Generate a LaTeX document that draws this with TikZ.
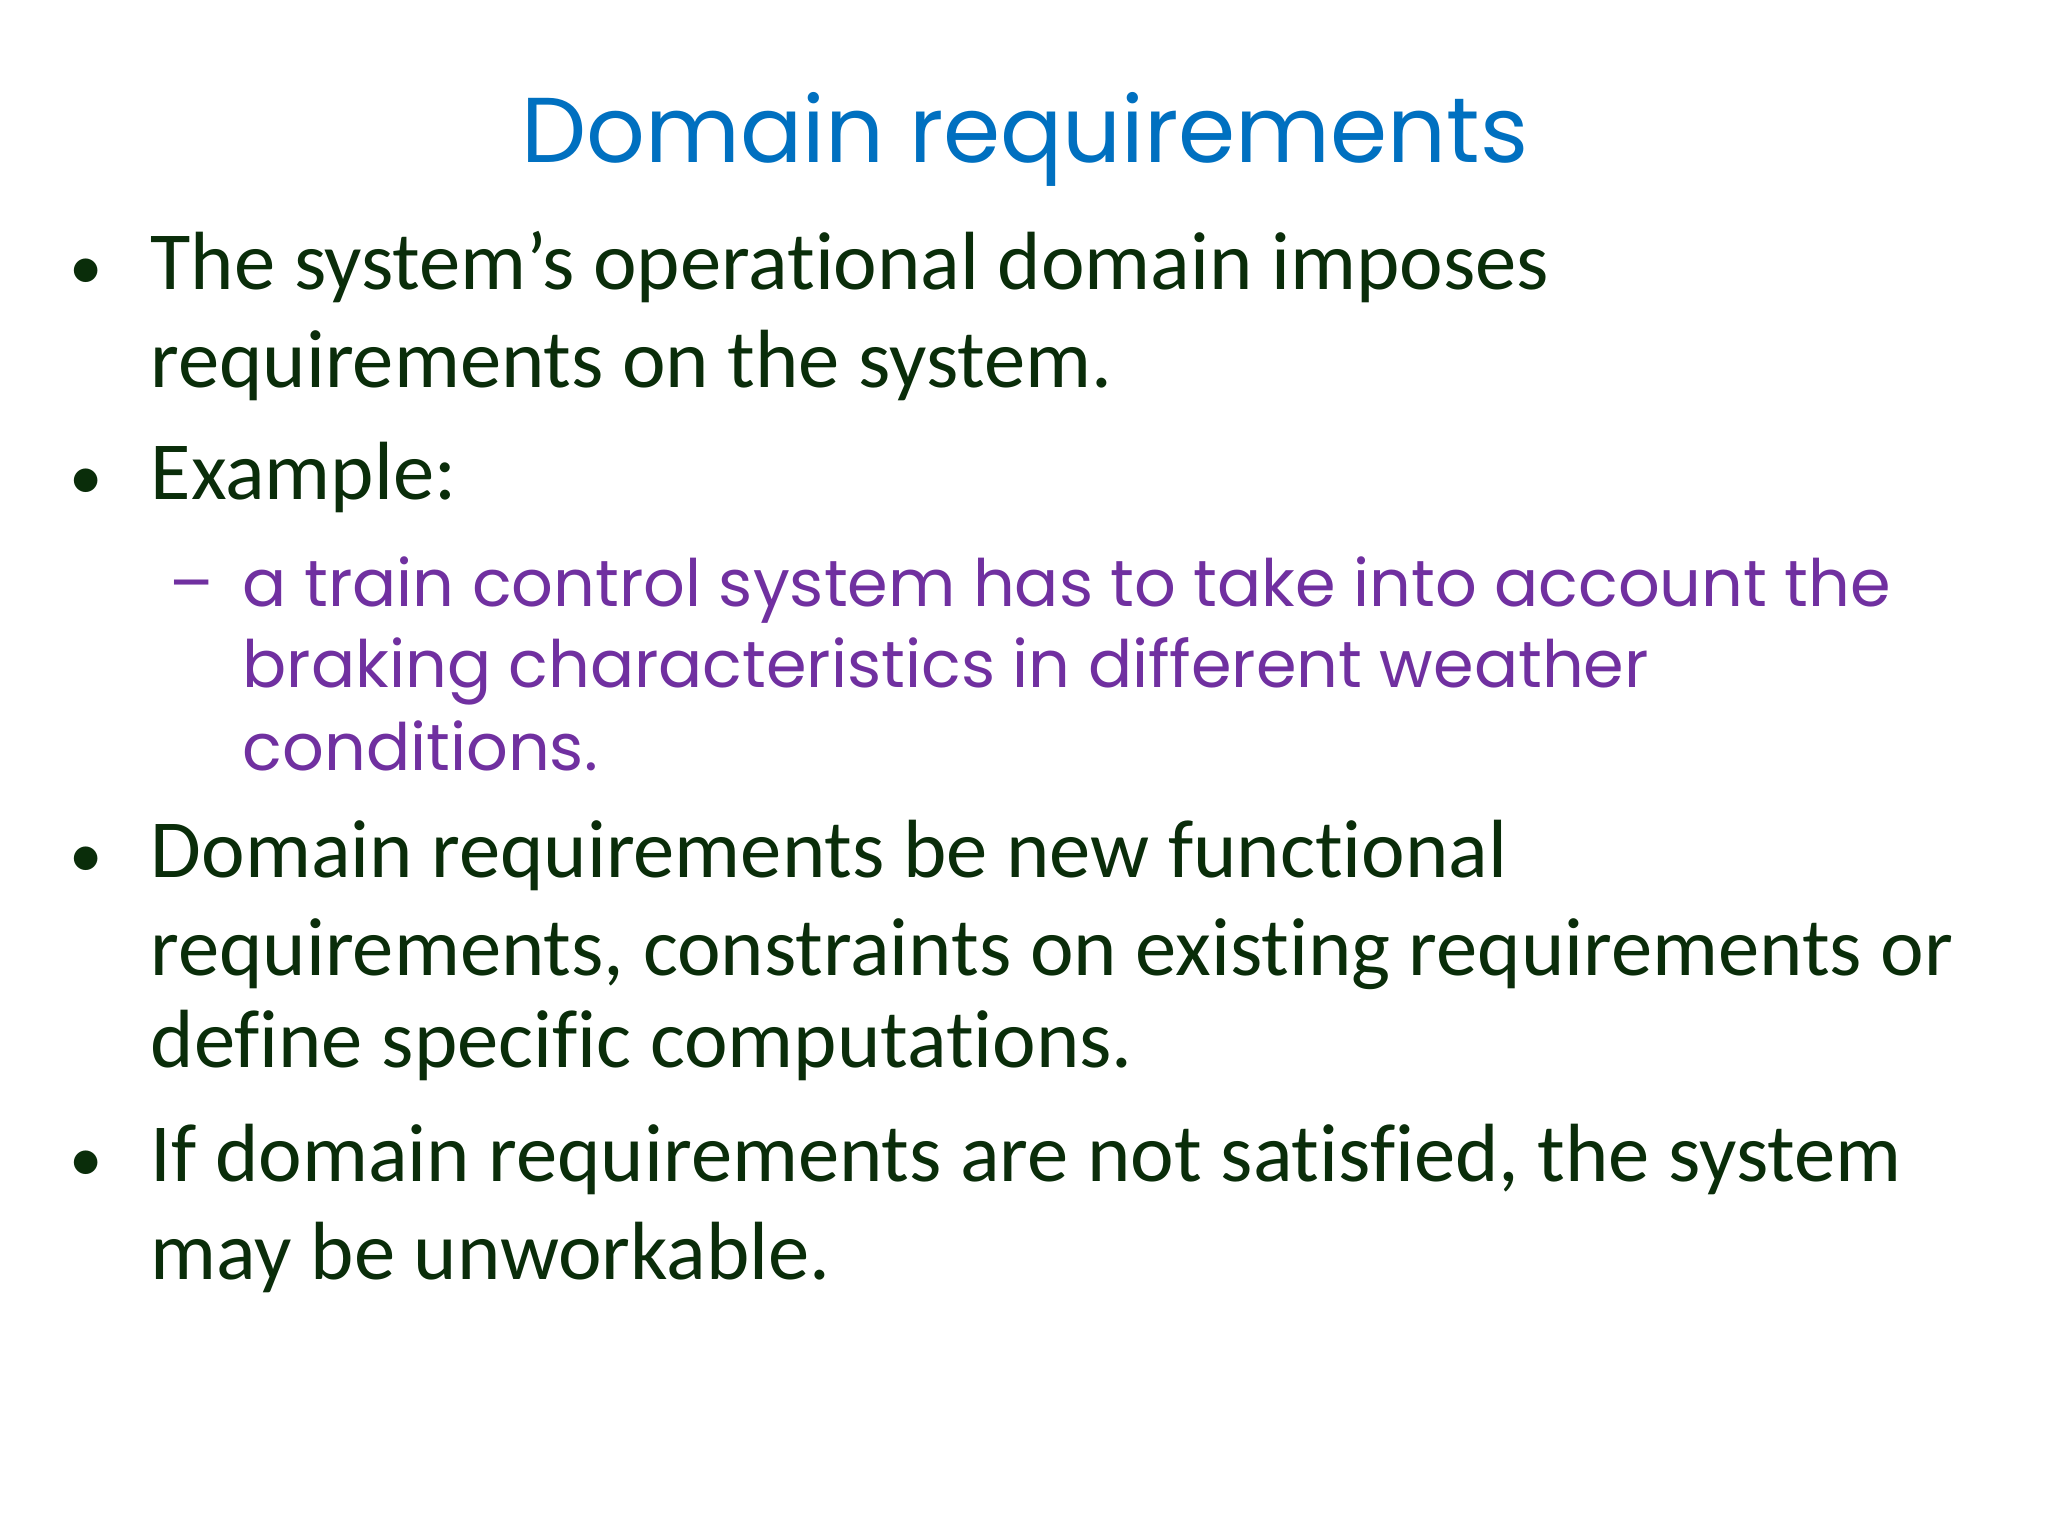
\documentclass[tikz,border=0pt]{standalone}
\usepackage{fontspec}
\setmainfont[Ligatures=NoCommon]{Carlito}
\newfontfamily\titlefont{Poppins}
\newfontfamily\subfont{Poppins}
\definecolor{titleblue}{RGB}{0,112,192}
\definecolor{bodygreen}{RGB}{10,45,10}
\definecolor{subpurple}{RGB}{112,48,160}
\begin{document}
\begin{tikzpicture}[x=1cm,y=1cm,
  body/.style={anchor=base west,inner sep=0pt,text=bodygreen,font=\fontsize{23.5}{28}\selectfont},
  sub/.style={anchor=base west,inner sep=0pt,text=subpurple,font=\subfont\fontsize{18.6}{23}\selectfont},
  bul/.style={anchor=base,inner sep=0pt,text=bodygreen,font=\fontsize{19}{23}\selectfont}]
\fill[white] (0,0) rectangle (20.48,15.36);
\useasboundingbox (0,0) rectangle (20.48,15.36);
\node[anchor=base,inner sep=0pt,text=titleblue,font=\titlefont\fontsize{26.2}{32}\selectfont] (title) at (10.25,15.36-1.63) {Domain requirements};
\node[bul] (b1) at (0.86,15.36-2.90) {•};
\node[body] (l1) at (1.50,15.36-2.90) {The system’s operational domain imposes};
\node[body] (l2) at (1.50,15.36-3.88) {requirements on the system.};
\node[bul] (b2) at (0.86,15.36-5.00) {•};
\node[body] (l3) at (1.50,15.36-5.00) {Example:};
\node[anchor=base,inner sep=0pt,text=subpurple,font=\subfont\fontsize{18.6}{23}\selectfont] (d1) at (1.92,15.36-6.07) {–};
\node[sub] (s1) at (2.42,15.36-6.07) {a train control system has to take into account the};
\node[sub] (s2) at (2.42,15.36-6.88) {braking characteristics in different weather};
\node[sub] (s3) at (2.42,15.36-7.71) {conditions.};
\node[bul] (b3) at (0.86,15.36-8.78) {•};
\node[body] (l4) at (1.50,15.36-8.78) {Domain requirements be new functional};
\node[body] (l5) at (1.50,15.36-9.76) {requirements, constraints on existing requirements or};
\node[body] (l6) at (1.50,15.36-10.68) {define specific computations.};
\node[bul] (b4) at (0.86,15.36-11.82) {•};
\node[body] (l7) at (1.50,15.36-11.82) {If domain requirements are not satisfied, the system};
\node[body] (l8) at (1.50,15.36-12.80) {may be unworkable.};
\end{tikzpicture}
\end{document}
